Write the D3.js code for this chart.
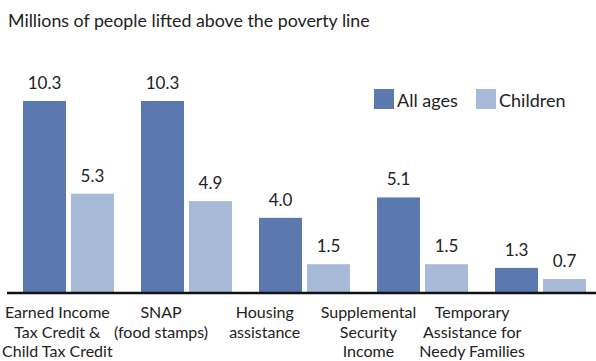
<!DOCTYPE html>
<html><head><meta charset="utf-8">
<script src="https://cdn.jsdelivr.net/npm/d3@7/dist/d3.min.js"></script>
<style>
html,body{margin:0;padding:0;background:#fff;}
svg{display:block;font-family:Lato,"Open Sans",sans-serif;}
</style></head>
<body><svg id="c" width="596" height="361"></svg>
<script>
const title = "Millions of people lifted above the poverty line";
const categories = ["eitc","snap","housing","ssi","tanf"];
const categoryLabels = [
  ["Earned Income","Tax Credit &","Child Tax Credit"],
  ["SNAP","(food stamps)"],
  ["Housing","assistance"],
  ["Supplemental","Security","Income"],
  ["Temporary","Assistance for","Needy Families"]
];
const seriesNames = ["All ages","Children"];
const allAges = [10.3, 10.3, 4.0, 5.1, 1.3];
const children = [5.3, 4.9, 1.5, 1.5, 0.7];
const colors = ["#5b79ae","#a7bbd8"];

const svg = d3.select("#c");
const seriesValues = [allAges, children];

const x0 = d3.scaleBand().domain(categories).range([23, 586]).paddingInner(0.229).paddingOuter(0);
const x1 = d3.scaleBand().domain(seriesNames).range([0, x0.bandwidth()]).paddingInner(0.104);
const y = d3.scaleLinear().domain([0, 10.3]).range([292, 101]);
const xl = d3.scaleBand().domain(categories).range([5.5, 524]);

svg.append("text").attr("x", 8).attr("y", 27).attr("font-size", 17.8).attr("fill", "#222").text(title);

const g = svg.append("g");
categories.forEach((c, i) => {
  seriesNames.forEach((s, j) => {
    const v = seriesValues[j][i];
    const bx = x0(c) + x1(s);
    g.append("rect").attr("x", bx).attr("y", y(v)).attr("width", x1.bandwidth())
      .attr("height", y(0) - y(v)).attr("fill", colors[j]);
    g.append("text").attr("x", bx + x1.bandwidth()/2).attr("y", y(v) - 12)
      .attr("text-anchor", "middle").attr("font-size", 17).attr("fill", "#222")
      .text(v.toFixed(1));
  });
  const t = g.append("text").attr("x", xl(c) + xl.bandwidth()/2).attr("y", 318)
    .attr("text-anchor", "middle").attr("font-size", 16).attr("fill", "#222");
  categoryLabels[i].forEach((ln, k) => {
    t.append("tspan").attr("x", xl(c) + xl.bandwidth()/2).attr("y", 318 + k*19.5).text(ln);
  });
});

svg.append("line").attr("x1", 7).attr("x2", 596).attr("y1", y(0)+1).attr("y2", y(0)+1)
  .attr("stroke", "#111").attr("stroke-width", 2.5);

// legend
const legX = [374, 476];
seriesNames.forEach((s, j) => {
  svg.append("rect").attr("x", legX[j]).attr("y", 89).attr("width", 20).attr("height", 20).attr("fill", colors[j]);
  svg.append("text").attr("x", legX[j] + 23).attr("y", 107).attr("font-size", 18).attr("fill", "#222").text(s);
});
</script></body></html>
